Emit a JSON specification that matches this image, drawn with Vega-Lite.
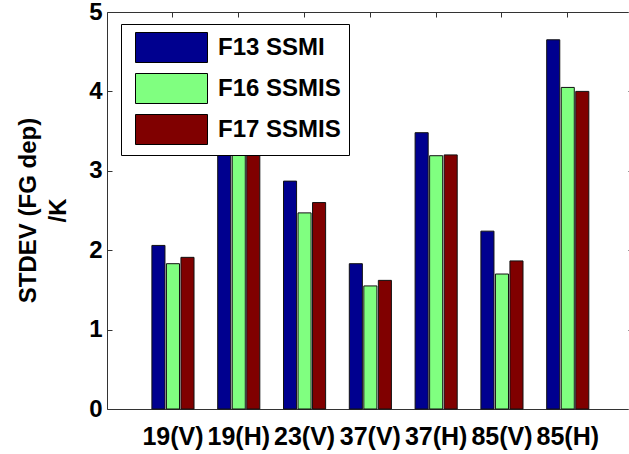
{
  "$schema": "https://vega.github.io/schema/vega-lite/v6.json",
  "autosize": {"type": "none"},
  "padding": {"left": 107, "top": 12, "right": 1, "bottom": 45},
  "width": 521,
  "height": 397,
  "background": "white",
  "config": {"view": {"stroke": null}},
  "data": {"values": [
    {"cat": "19(V)", "series": "F13 SSMI", "value": 2.06},
    {"cat": "19(V)", "series": "F16 SSMIS", "value": 1.83},
    {"cat": "19(V)", "series": "F17 SSMIS", "value": 1.91},
    {"cat": "19(H)", "series": "F13 SSMI", "value": 3.6},
    {"cat": "19(H)", "series": "F16 SSMIS", "value": 3.35},
    {"cat": "19(H)", "series": "F17 SSMIS", "value": 3.4},
    {"cat": "23(V)", "series": "F13 SSMI", "value": 2.87},
    {"cat": "23(V)", "series": "F16 SSMIS", "value": 2.47},
    {"cat": "23(V)", "series": "F17 SSMIS", "value": 2.6},
    {"cat": "37(V)", "series": "F13 SSMI", "value": 1.83},
    {"cat": "37(V)", "series": "F16 SSMIS", "value": 1.55},
    {"cat": "37(V)", "series": "F17 SSMIS", "value": 1.62},
    {"cat": "37(H)", "series": "F13 SSMI", "value": 3.48},
    {"cat": "37(H)", "series": "F16 SSMIS", "value": 3.19},
    {"cat": "37(H)", "series": "F17 SSMIS", "value": 3.2},
    {"cat": "85(V)", "series": "F13 SSMI", "value": 2.24},
    {"cat": "85(V)", "series": "F16 SSMIS", "value": 1.7},
    {"cat": "85(V)", "series": "F17 SSMIS", "value": 1.865},
    {"cat": "85(H)", "series": "F13 SSMI", "value": 4.65},
    {"cat": "85(H)", "series": "F16 SSMIS", "value": 4.05},
    {"cat": "85(H)", "series": "F17 SSMIS", "value": 4.0}
  ]},
  "layer": [
    {
      "mark": {"type": "bar", "stroke": "#111", "strokeWidth": 1, "opacity": 1},
      "encoding": {
        "x": {
          "field": "cat", "type": "nominal", "sort": null,
          "scale": {"paddingInner": 0.36, "paddingOuter": 0.639, "align": 0.534},
          "axis": {
            "title": null, "orient": "bottom", "labelAngle": 0, "ticks": false,
            "domain": true, "domainColor": "#333", "domainWidth": 1,
            "labelFont": "Liberation Sans", "labelFontWeight": "bold", "labelFontSize": 25,
            "labelColor": "#000", "labelBaseline": "alphabetic", "labelPadding": 35,
            "labelOverlap": false, "labelLimit": 0
          }
        },
        "xOffset": {"field": "series", "type": "nominal", "scale": {"paddingInner": 0.1}},
        "y": {
          "field": "value", "type": "quantitative",
          "scale": {"domain": [0, 5], "nice": false, "zero": true},
          "axis": {
            "title": ["STDEV (FG dep)", "/K"], "orient": "left", "values": [0, 1, 2, 3, 4, 5],
            "grid": false, "domainColor": "#333", "domainWidth": 1,
            "tickSize": -5, "tickColor": "#333", "tickWidth": 1,
            "labelFont": "Liberation Sans", "labelFontWeight": "bold", "labelFontSize": 24,
            "labelColor": "#000", "labelPadding": 10, "labelFlush": false,
            "titleFont": "Liberation Sans", "titleFontWeight": "bold", "titleFontSize": 24,
            "titleColor": "#000", "titleLineHeight": 30, "titleBaseline": "alphabetic",
            "titleAngle": -90, "titleAlign": "center", "titleX": -72, "titleY": 198,
            "titleLimit": 1000
          }
        },
        "color": {
          "field": "series", "type": "nominal",
          "scale": {"domain": ["F13 SSMI", "F16 SSMIS", "F17 SSMIS"], "range": ["#00008F", "#80FF80", "#800000"]},
          "legend": {
            "title": null, "orient": "none", "legendX": 14, "legendY": 12,
            "fillColor": "white", "strokeColor": "#000", "padding": 8,
            "symbolType": "M-2.4,-1H2.4V1H-2.4Z", "symbolSize": 900,
            "symbolStrokeColor": "#000", "symbolStrokeWidth": 1, "symbolOffset": 27, "symbolOpacity": 1,
            "labelFont": "Liberation Sans", "labelFontWeight": "bold", "labelFontSize": 24,
            "labelColor": "#000", "labelOffset": 31, "rowPadding": 6, "labelLimit": 0,
            "labelExpr": "datum.label + '\u00a0\u00a0'"
          }
        }
      }
    },
    {
      "mark": {"type": "bar", "opacity": 0},
      "encoding": {
        "x": {
          "field": "cat", "type": "nominal", "sort": null,
          "axis": {
            "title": null, "orient": "top", "labels": false, "domain": true,
            "domainColor": "#333", "tickSize": -5, "tickColor": "#333", "tickWidth": 1
          }
        },
        "y": {
          "field": "value", "type": "quantitative",
          "axis": {
            "title": null, "orient": "right", "labels": false, "domain": false, "grid": false,
            "values": [0, 1, 2, 3, 4, 5], "tickSize": 5, "tickColor": "#333", "tickWidth": 1
          }
        }
      }
    }
  ]
}
